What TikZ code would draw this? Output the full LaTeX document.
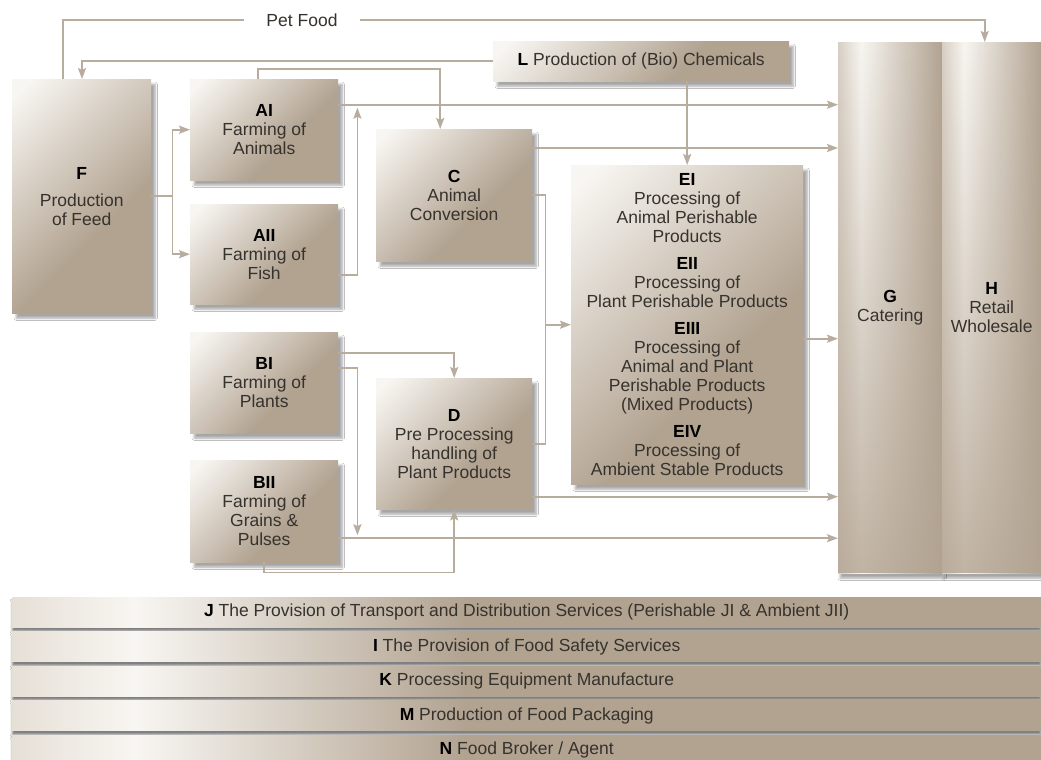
\documentclass[tikz,border=0pt]{standalone}
\usepackage{fontspec}
\setmainfont{Liberation Sans}
\usetikzlibrary{arrows.meta,shadows.blur,fadings}

\definecolor{taupe}{HTML}{B2A391}
\definecolor{cream}{HTML}{F8F6F2}
\definecolor{mist}{HTML}{D8CFC4}
\definecolor{haze}{HTML}{E6DFD6}
\definecolor{wire}{HTML}{B8AC9E}
\definecolor{ink}{HTML}{36322D}

\pgfdeclareverticalshading{boxshade}{100bp}{color(0bp)=(taupe); color(40bp)=(taupe); color(82bp)=(cream); color(100bp)=(cream)}
\pgfdeclarehorizontalshading{colshade}{100bp}{color(0bp)=(mist); color(25bp)=(mist); color(36bp)=(cream); color(75bp)=(taupe); color(100bp)=(taupe)}
\pgfdeclarehorizontalshading{barshade}{100bp}{color(0bp)=(haze); color(25bp)=(haze); color(31bp)=(cream); color(47bp)=(taupe); color(100bp)=(taupe)}
\tikzfading[name=colfade, top color=transparent!100, middle color=transparent!100, bottom color=transparent!20]

\newcommand{\secid}[1]{{\color{black}\bfseries #1}}

\begin{document}
\begin{tikzpicture}[
  x=1pt, y=-1pt,
  every node/.style={text=ink, font=\fontsize{17.5}{19}\selectfont},
  box/.style={shade, shading=boxshade, shading angle=45, anchor=north west,
    inner sep=0pt, align=center,
    blur shadow={shadow xshift=4pt, shadow yshift=-5pt, shadow blur steps=8, shadow opacity=35}},
  column/.style={shade, shading=colshade, anchor=north west, inner sep=0pt, align=center,
    postaction={fill=taupe, path fading=colfade},
    blur shadow={shadow xshift=2pt, shadow yshift=-5pt, shadow blur steps=8, shadow opacity=35}},
  bar/.style={shade, shading=barshade, anchor=north west, inner sep=0pt,
    minimum width=1029pt, minimum height=30pt,
    blur shadow={shadow xshift=0pt, shadow yshift=-4pt, shadow blur steps=4, shadow opacity=50}},
  link/.style={draw=wire, line width=1.8pt},
  >={Stealth[length=11pt,width=8pt,inset=2pt]},
  ]
  \useasboundingbox[fill=white] (0,0) rectangle (1041,760);

  \node[box, minimum width=139pt, minimum height=234pt] (f) at (12,79)
    {\secid{F}\\[8pt]Production\\of Feed};
  \node[box, minimum width=148pt, minimum height=101pt] (ai) at (190,79)
    {\secid{AI}\\Farming of\\Animals};
  \node[box, minimum width=148pt, minimum height=100pt] (aii) at (190,204)
    {\secid{AII}\\Farming of\\Fish};
  \node[box, minimum width=156pt, minimum height=132pt] (c) at (376,129)
    {\secid{C}\\Animal\\Conversion};
  \node[box, minimum width=148pt, minimum height=101pt] (bi) at (190,332)
    {\secid{BI}\\Farming of\\Plants};
  \node[box, minimum width=148pt, minimum height=102pt] (bii) at (190,460)
    {\secid{BII}\\Farming of\\Grains \&\\Pulses};
  \node[box, minimum width=156pt, minimum height=131pt] (d) at (376,378)
    {\secid{D}\\Pre Processing\\handling of\\Plant Products};
  \node[box, minimum width=296pt, minimum height=40pt] (l) at (493,41)
    {\secid{L} Production of (Bio) Chemicals};
  \node[box, minimum width=232pt, minimum height=319pt] (e) at (571,165)
    {\secid{EI}\\Processing of\\Animal Perishable\\Products\\[8pt]
     \secid{EII}\\Processing of\\Plant Perishable Products\\[8pt]
     \secid{EIII}\\Processing of\\Animal and Plant\\Perishable Products\\(Mixed Products)\\[8pt]
     \secid{EIV}\\Processing of\\Ambient Stable Products};
  \node[column, minimum width=104pt, minimum height=531pt] (g) at (838,42)
    {\secid{G}\\Catering};
  \node[column, minimum width=99pt, minimum height=531pt] (h) at (942,42)
    {\secid{H}\\Retail\\Wholesale};

  \node[bar] (j) at (12,597)
    {\secid{J} The Provision of Transport and Distribution Services (Perishable JI \& Ambient JII)};
  \node[bar] (i) at (12,631.5) {\secid{I} The Provision of Food Safety Services};
  \node[bar] (k) at (12,666) {\secid{K} Processing Equipment Manufacture};
  \node[bar] (m) at (12,700.5) {\secid{M} Production of Food Packaging};
  \node[bar] (n) at (12,735) {\secid{N} Food Broker / Agent};

  \node[fill=white, inner xsep=22pt, inner ysep=2pt] (pet) at (302,20) {Pet Food};

  \draw[link] ([xshift=51pt]f.north west) |- (pet.west);
  \draw[link,->] (pet.east) -| ([xshift=-7pt]h.north);
  \draw[link,->] (l.west) -| ([xshift=70pt]f.north west);
  \draw[link,->] ([xshift=-6pt]ai.north) -- ++(0,10pt) -| ([xshift=-14pt]c.north);
  \draw[link] (f.east) -- ++(21pt,0) coordinate (fj);
  \draw[link,->] (fj) |- (ai.west);
  \draw[link,->] (fj) |- (aii.west);
  \draw[link,->] ([yshift=25pt]ai.east) coordinate (a1) -- (a1 -| g.west);
  \draw[link,->] ([yshift=-21pt]aii.east) -| ([xshift=19pt,yshift=-3pt]a1);
  \draw[link,->] ([yshift=-19pt]c.north east) coordinate (c1) -- (c1 -| g.west);
  \draw[link,->] (l.south -| e.north) -- (e.north);
  \draw[link] (c.east) -- ++(13pt,0) coordinate (cj) |- (d.east);
  \draw[link,->] (cj |- e.west) -- (e.west);
  \draw[link,->] ([yshift=-14pt]e.east) coordinate (e1) -- (e1 -| g.west);
  \draw[link,->] ([yshift=-27pt]bii.east) coordinate (b1) -- (b1 -| g.west);
  \draw[link,->] ([yshift=30pt]bi.east) -| (d.north);
  \draw[link,->] ([yshift=15pt]bi.east) -| ([xshift=19pt,yshift=3pt]b1);
  \draw[link,->] ([yshift=-53pt]d.east) coordinate (d1) -- (d1 -| g.west);
  \draw[link,->] (bii.south) -- ++(0,-10pt) -| (d.south);
\end{tikzpicture}
\end{document}
